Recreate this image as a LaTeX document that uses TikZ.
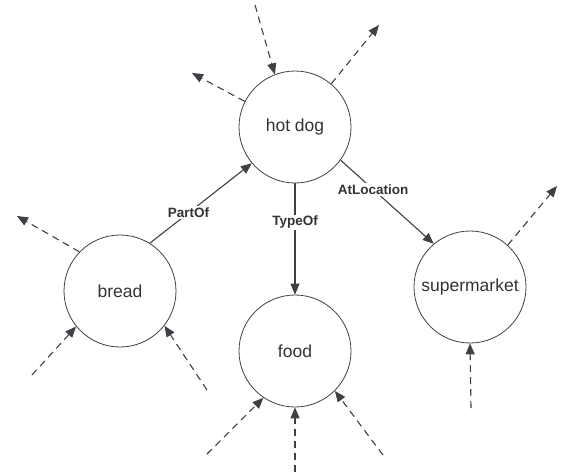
\documentclass[tikz,border=0pt]{standalone}
\usepackage{fontspec}
\setmainfont{Liberation Sans}
\usetikzlibrary{arrows.meta}
\definecolor{linegray}{RGB}{62,64,70}
\definecolor{textgray}{RGB}{51,51,51}
\begin{document}
\begin{tikzpicture}[x=1pt, y=-1pt,
        concept/.style={circle, draw=linegray, line width=0.8pt, minimum size=112pt, inner sep=0pt, text=textgray, font=\fontsize{17.5}{20}\selectfont},
        relation/.style={-{Triangle[length=11pt, width=9pt]}, draw=linegray, line width=1.1pt},
        stub/.style={relation, dashed, dash pattern=on 7pt off 5pt},
        rellabel/.style={fill=white, inner sep=1.5pt, text=textgray, font=\fontsize{13.5}{16}\selectfont\bfseries}]
        \useasboundingbox (0,0) rectangle (561,474);

        % Define nodes
        \node (hotdog) [concept] at (295,127) {hot dog};
        \node (bread) [concept] at (120,291) {bread};
        \node (food) [concept] at (295,351) {food};
        \node (supermarket) [concept] at (470,287) {supermarket};

        % Loose ends of the dashed arrows
        \coordinate (hd_in) at (255,5);
        \coordinate (hd_outl) at (192,73);
        \coordinate (hd_outr) at (379,25);
        \coordinate (br_out) at (17,216);
        \coordinate (br_inl) at (32,375);
        \coordinate (br_inr) at (207,390);
        \coordinate (fd_inl) at (207,454);
        \coordinate (fd_inm) at (295,472);
        \coordinate (fd_inr) at (383,455);
        \coordinate (sm_out) at (557,186);
        \coordinate (sm_in) at (471,408);

        % Draw arrows
        \draw[relation] (bread.58) -- (hotdog.220) node[rellabel, pos=0.38] {PartOf};
        \draw[relation] (hotdog.south) -- (food.north) node[rellabel, pos=0.35] {TypeOf};
        \draw[relation] (hotdog.324) -- (supermarket.130) node[rellabel, pos=0.35] {AtLocation};

        % Dashed arrows
        \draw[stub] (hd_in) -- (hotdog.111);
        \draw[stub] (hotdog.153) -- (hd_outl);
        \draw[stub] (hotdog.50) -- (hd_outr);
        \draw[stub] (bread.136) -- (br_out);
        \draw[stub] (br_inl) -- (bread.219);
        \draw[stub] (br_inr) -- (bread.322);
        \draw[stub] (fd_inl) -- (food.236);
        \draw[stub] (fd_inm) -- (food.south);
        \draw[stub] (fd_inr) -- (food.315);
        \draw[stub] (supermarket.48) -- (sm_out);
        \draw[stub] (sm_in) -- (supermarket.south);
    \end{tikzpicture}
\end{document}
